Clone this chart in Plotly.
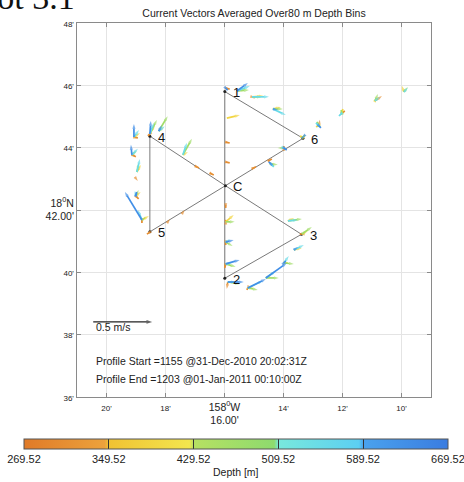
import math
import plotly.graph_objects as go
from plotly.colors import sample_colorscale

# ---------------- data (x = minutes W of 158°, y = minutes N of 18°) ----------------
wp_lon = [15.99, 13.34, 15.97, 18.53, 18.53, 15.97, 13.39, 15.99, 15.99]
wp_lat = [45.80, 44.30, 42.78, 41.30, 44.37, 42.78, 41.22, 39.81, 45.80]

label_names = ["1", "2", "3", "4", "5", "6", "C"]
label_lon = [15.99, 15.99, 13.39, 18.53, 18.53, 13.34, 15.97]
label_lat = [45.80, 39.81, 41.22, 44.37, 41.30, 44.30, 42.78]

st_lon = [19.07, 18.53, 18.23, 19.14, 18.97, 19.01, 18.80, 17.41, 15.96, 15.58,
          15.07, 14.36, 15.92, 12.80, 12.02, 10.90, 9.92, 14.43, 13.99, 13.34,
          15.96, 15.96, 15.96, 15.89, 15.21, 14.60, 13.99, 13.85, 13.38, 13.65,
          15.96, 15.96, 15.96, 17.00, 16.50, 15.07, 14.53, 17.95, 17.45, 18.53, 19.04]
st_lat = [44.34, 44.44, 44.53, 43.77, 43.22, 42.45, 41.68, 43.77, 45.91, 45.82,
          45.63, 45.24, 44.95, 44.70, 45.11, 45.50, 45.79, 43.48, 43.99, 44.34,
          41.62, 40.97, 40.27, 39.69, 39.50, 39.82, 40.30, 41.65, 41.23, 40.72,
          44.18, 43.54, 42.16, 43.41, 43.19, 43.32, 43.57, 41.58, 41.87, 41.29, 43.06]

depth_bins = [309.52, 389.52, 469.52, 549.52, 629.52]

arrow_st = [0, 0, 0, 0,
            1, 1, 1, 1, 1,
            2, 2, 2, 2,
            3, 3, 3, 3,
            4, 4, 4,
            40,
            5, 5, 5, 5, 5,
            6, 6, 6, 6, 6,
            7, 7, 7,
            8, 8,
            9, 9, 9, 9,
            10, 10, 10, 10,
            11, 11, 11, 11,
            12,
            13, 13, 13, 13, 13,
            14, 14, 14, 14,
            15, 15, 15, 15,
            16, 16, 16,
            17, 17, 17, 17,
            18, 18, 18, 18,
            19, 19, 19,
            20, 20, 20,
            21, 21, 21, 21,
            22, 22, 22, 22,
            23, 23, 23, 23,
            24, 24, 24, 24, 24,
            25, 25, 25, 25,
            26, 26, 26, 26,
            27, 27, 27,
            28, 28, 28,
            29, 29, 29,
            30, 31, 32, 33, 34, 35, 36, 37, 38, 39]
arrow_bin = [4, 3, 0, 1,
             4, 2, 1, 3, 0,
             2, 3, 4, 1,
             4, 3, 0, 2,
             3, 1, 2,
             0,
             4, 1, 2, 0, 3,
             4, 3, 2, 1, 0,
             2, 3, 1,
             0, 4,
             4, 3, 2, 1,
             0, 3, 2, 1,
             4, 2, 3, 1,
             1,
             0, 3, 4, 2, 1,
             0, 1, 3, 2,
             0, 3, 2, 1,
             1, 2, 3,
             4, 3, 2, 1,
             0, 2, 4, 3,
             1, 2, 4,
             1, 2, 0,
             4, 3, 2, 0,
             4, 2, 3, 0,
             0, 4, 2, 3,
             4, 3, 2, 0, 1,
             4, 2, 3, 1,
             3, 2, 1, 4,
             2, 1, 3,
             2, 1, 0,
             3, 4, 1,
             0, 0, 0, 0, 0, 0, 0, 0, 0, 0]
arrow_u = [0.000, 0.042, 0.034, 0.051,
           0.008, 0.059, 0.042, 0.034, -0.017,
           0.076, 0.051, 0.025, 0.042,
           -0.008, 0.051, 0.034, 0.042,
           0.025, 0.034, 0.017,
           0.025,
           0.008, 0.042, 0.025, 0.025, -0.008,
           -0.144, -0.034, 0.034, 0.059, 0.000,
           0.076, 0.034, 0.042,
           0.034, 0.017,
           0.093, 0.110, 0.102, 0.076,
           0.025, 0.144, 0.085, 0.102,
           0.042, 0.085, 0.110, 0.068,
           0.110,
           0.008, -0.025, 0.017, -0.017, -0.025,
           0.025, 0.008, -0.025, -0.008,
           0.059, 0.042, 0.025, 0.017,
           -0.017, 0.034, 0.034,
           -0.017, 0.025, 0.059, 0.025,
           0.000, -0.051, 0.025, 0.017,
           -0.025, 0.017, -0.008,
           0.068, 0.076, 0.000,
           0.068, 0.034, 0.059, 0.000,
           0.119, 0.085, 0.051, -0.008,
           -0.008, 0.136, 0.102, 0.068,
           0.153, 0.127, 0.085, -0.008, 0.051,
           0.178, 0.110, 0.085, 0.042,
           0.042, 0.085, 0.034, 0.017,
           0.119, 0.051, 0.085,
           0.085, 0.051, -0.017,
           0.085, 0.034, 0.068,
           0.034, 0.034, 0.000, 0.034, 0.034, 0.034, 0.034, 0.025, 0.025, -0.025]
arrow_v = [0.110, 0.059, -0.008, 0.034,
           0.110, 0.119, 0.076, 0.093, -0.017,
           0.127, 0.042, 0.051, 0.034,
           0.085, 0.051, -0.017, 0.034,
           0.110, 0.059, 0.076,
           -0.034,
           0.034, 0.034, 0.051, -0.025, 0.042,
           0.237, 0.085, 0.025, 0.034, -0.025,
           0.136, 0.102, 0.025,
           -0.008, -0.017,
           0.068, 0.042, 0.008, 0.017,
           -0.008, 0.000, 0.000, 0.008,
           -0.008, 0.000, -0.051, 0.017,
           0.025,
           0.051, 0.025, -0.017, 0.034, -0.008,
           0.017, 0.034, -0.025, 0.025,
           0.042, 0.034, 0.059, 0.025,
           0.051, 0.042, 0.034,
           0.017, -0.025, -0.008, -0.017,
           0.017, 0.000, -0.017, -0.008,
           0.008, 0.017, -0.008,
           0.059, 0.000, 0.017,
           0.017, 0.025, -0.034, -0.025,
           0.034, -0.025, 0.008, -0.034,
           -0.059, 0.000, -0.017, 0.000,
           0.076, 0.059, -0.017, -0.017, 0.000,
           0.127, 0.000, 0.059, 0.017,
           0.059, -0.008, 0.000, 0.017,
           0.017, 0.025, 0.008,
           0.059, 0.025, 0.000,
           0.042, 0.025, 0.017,
           -0.008, -0.008, -0.025, -0.017, -0.017, 0.017, 0.017, 0.034, 0.034, -0.017]

scale_speed = 0.5
scale_lon = 20.45
scale_lat = 38.41

x_tickvals = [20, 18, 16, 14, 12, 10]
x_ticktext = ["<span style='font-size:8px'>20'</span>", "<span style='font-size:8px'>18'</span>",
              "158<sup>0</sup>W<br>16.00'",
              "<span style='font-size:8px'>14'</span>", "<span style='font-size:8px'>12'</span>",
              "<span style='font-size:8px'>10'</span>"]
y_tickvals = [48, 46, 44, 42, 40, 38, 36]
y_ticktext = ["<span style='font-size:8px'>48'</span>", "<span style='font-size:8px'>46'</span>",
              "<span style='font-size:8px'>44'</span>",
              "18<sup>0</sup>N<br>42.00'",
              "<span style='font-size:8px'>40'</span>", "<span style='font-size:8px'>38'</span>",
              "<span style='font-size:8px'>36'</span>"]
cb_ticks = [269.52, 349.52, 429.52, 509.52, 589.52, 669.52]

# ---------------- styling ----------------
colorscale = [
    [0.00, "#e07a28"], [0.19, "#eca23c"],
    [0.20, "#f0c232"], [0.39, "#f3e64e"],
    [0.40, "#b6e062"], [0.59, "#8edb6e"],
    [0.60, "#78e8dc"], [0.79, "#5ccff2"],
    [0.80, "#4aa2ee"], [1.00, "#3a7ce0"],
]
cmin, cmax = cb_ticks[0] - 0.01, cb_ticks[-1] + 0.01
QUIVER_LAT = 3.786                      # minutes of latitude per m/s
QUIVER_LON = QUIVER_LAT / math.cos(math.radians(18.7))

FONT = "Liberation Sans, Arial, Helvetica, sans-serif"

fig = go.Figure()

# track
fig.add_trace(go.Scatter(x=wp_lon, y=wp_lat, mode="lines",
                         line=dict(color="#7a7a7a", width=1), hoverinfo="skip"))
fig.add_trace(go.Scatter(x=label_lon, y=label_lat, mode="markers",
                         marker=dict(color="#222", size=3), hoverinfo="skip"))

# current vectors, one trace per depth bin
for b, depth in enumerate(depth_bins):
    xs, ys, sizes, cols = [], [], [], []
    for s, bb, u, v in zip(arrow_st, arrow_bin, arrow_u, arrow_v):
        if bb != b:
            continue
        x0, y0 = st_lon[s], st_lat[s]
        xs += [x0, x0 - u * QUIVER_LON, None]
        ys += [y0, y0 + v * QUIVER_LAT, None]
        sizes += [0, 5, 0]
        cols += [depth, depth, depth]
    line_col = sample_colorscale(colorscale, [(depth - cmin) / (cmax - cmin)])[0]
    fig.add_trace(go.Scatter(
        x=xs, y=ys, mode="lines+markers", connectgaps=False,
        line=dict(color=line_col, width=1.7),
        marker=dict(symbol="arrow", angleref="previous", size=sizes,
                    color=cols, colorscale=colorscale, cmin=cmin, cmax=cmax,
                    line=dict(width=0),
                    showscale=(b == 0),
                    colorbar=dict(orientation="h", x=0.449, xanchor="center",
                                  y=-0.112, yanchor="top", xpad=0, ypad=0,
                                  thickness=10, thicknessmode="pixels",
                                  len=424, lenmode="pixels",
                                  tickvals=cb_ticks,
                                  ticktext=[f"{t:.2f}" for t in cb_ticks],
                                  ticklabeloverflow="allow",
                                  ticks="inside", ticklen=10, tickcolor="#333",
                                  tickfont=dict(size=11, family=FONT, color="#222"),
                                  outlinewidth=1, outlinecolor="#555")),
        hoverinfo="skip"))

# scale arrow
fig.add_trace(go.Scatter(
    x=[scale_lon, scale_lon - scale_speed * QUIVER_LON], y=[scale_lat, scale_lat],
    mode="lines+markers", line=dict(color="#222", width=1.2),
    marker=dict(symbol="arrow", angleref="previous", size=[0, 6], color="#222",
                line=dict(width=0)),
    hoverinfo="skip"))

annotations = []
for name, x, y in zip(label_names, label_lon, label_lat):
    annotations.append(dict(x=x, y=y, text=name, showarrow=False, xanchor="left",
                            yanchor="middle", xshift=6, yshift=-1,
                            font=dict(size=13, family=FONT, color="#111")))
annotations += [
    dict(x=20.43, y=38.25, text="0.5 m/s", showarrow=False, xanchor="left", yanchor="middle",
         font=dict(size=10.5, family=FONT, color="#222")),
    dict(x=20.43, y=37.16, text="Profile Start =1155 @31-Dec-2010 20:02:31Z", showarrow=False,
         xanchor="left", yanchor="middle", font=dict(size=10.5, family=FONT, color="#222")),
    dict(x=20.43, y=36.58, text="Profile End =1203 @01-Jan-2011 00:10:00Z", showarrow=False,
         xanchor="left", yanchor="middle", font=dict(size=10.5, family=FONT, color="#222")),
    dict(xref="paper", yref="paper", x=0.449, y=-0.2005, text="Depth [m]", showarrow=False,
         xanchor="center", yanchor="middle", font=dict(size=10.5, family=FONT, color="#222")),
    dict(xref="paper", yref="paper", x=0.0, y=1.035, text="Plot 3.1", showarrow=False,
         xanchor="right", yanchor="bottom", yshift=-8,
         font=dict(size=34, family="Liberation Serif, Times New Roman, serif", color="#111")),
]

fig.update_layout(
    width=464, height=482,
    margin=dict(l=77, r=33, t=23, b=85, autoexpand=False),
    plot_bgcolor="white", paper_bgcolor="white",
    showlegend=False,
    font=dict(family=FONT, color="#222"),
    title=dict(text="Current Vectors Averaged Over80 m Depth Bins", x=0.5, xref="paper",
               y=1 - 13 / 482, yref="container", xanchor="center", yanchor="middle",
               font=dict(size=10.5, family=FONT, color="#222")),
    annotations=annotations,
)
axis_common = dict(showgrid=True, gridcolor="#e4e4e4", gridwidth=1, zeroline=False,
                   showline=True, linecolor="#8a8a8a", linewidth=1, mirror="ticks",
                   ticks="inside", ticklen=4, tickcolor="#8a8a8a", automargin=False,
                   tickfont=dict(size=10.5, family=FONT, color="#222"))
fig.update_xaxes(range=[21.0, 9.0], tickmode="array", tickvals=x_tickvals,
                 ticktext=x_ticktext, **axis_common)
fig.update_yaxes(range=[36, 48], tickmode="array", tickvals=y_tickvals,
                 ticktext=y_ticktext, **axis_common)

fig.write_html("out.html")
